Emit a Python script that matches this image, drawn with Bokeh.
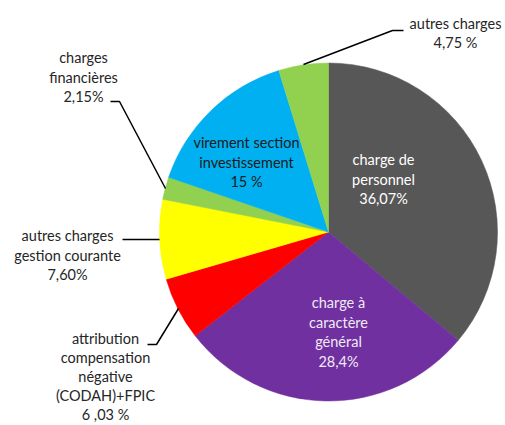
import numpy as np
from bokeh.plotting import figure
from bokeh.models import Range1d, ColumnDataSource
from bokeh.core.properties import value
from bokeh.embed import file_html
from bokeh.resources import INLINE

# ---- data ----
categories = ["charge de personnel", "charge à caractère général",
              "attribution compensation négative (CODAH)+FPIC",
              "autres charges gestion courante", "charges financières",
              "virement section investissement", "autres charges"]
values = [36.07, 28.4, 6.03, 7.60, 2.15, 15.0, 4.75]
label_texts = ["charge de\npersonnel\n36,07%",
               "charge à\ncaractère\ngénéral\n28,4%",
               "attribution\ncompensation\nnégative\n(CODAH)+FPIC\n6 ,03 %",
               "autres charges\ngestion courante\n7,60%",
               "charges\nfinancières\n2,15%",
               "virement section\ninvestissement\n15 %",
               "autres charges\n4,75 %"]
colors = ["#575757", "#7030A0", "#FF0000", "#FFFF00", "#92D050", "#00B0F0", "#92D050"]

# ---- layout (page pixel coords) ----
W, H = 505, 425
cx, cy, R = 328, 231.5, 169
label_pos = [(383, 159), (338, 302), (105, 338), (67, 235), (83, 57), (246, 142), (455, 22.7)]
label_steps = [19.7, 19.7, 19.1, 19.7, 19.7, 19.7, 19.7]
label_colors = ["#FFFFFF", "#F0EAF5", "#262626", "#262626", "#262626", "#1A1A1A", "#262626"]
leaders = [None, None,
           [(147, 344), (156, 344), (178, 308)],
           [(122, 239), (159, 239)],
           [(110, 101), (119, 101), (165, 188)],
           None,
           [(303, 64), (392, 30), (403, 30)]]
FONT = "Lato"
FS = "14.5px"

p = figure(width=W, height=H, output_backend="svg", toolbar_location=None,
           x_range=Range1d(0, W), y_range=Range1d(0, H), min_border=0)
p.axis.visible = False
p.grid.visible = False
p.outline_line_color = None
p.background_fill_color = "white"
p.border_fill_color = "white"

vals = np.array(values, dtype=float)
frac = vals / vals.sum()
cum = np.concatenate([[0], np.cumsum(frac)])
starts = np.pi / 2 - 2 * np.pi * cum[:-1]
ends = np.pi / 2 - 2 * np.pi * cum[1:]
src = ColumnDataSource(dict(start=starts, end=ends, color=colors, cat=categories))
p.wedge(x=cx, y=H - cy, radius=R, start_angle="start", end_angle="end",
        direction="clock", fill_color="color", line_color="color", line_width=0.5,
        source=src)

for lead in leaders:
    if lead is None:
        continue
    xs = [a for a, b in lead]
    ys = [H - b for a, b in lead]
    p.line(xs, ys, line_color="black", line_width=1.5)

tx, ty, tt, tc = [], [], [], []
for text, (x0, y0), col, st in zip(label_texts, label_pos, label_colors, label_steps):
    for i, line in enumerate(text.split("\n")):
        tx.append(x0)
        ty.append(H - (y0 + i * st))
        tt.append(line)
        tc.append(col)
p.text(x=tx, y=ty, text=tt, text_color=tc, text_align="center", text_baseline="middle",
       text_font=value(FONT), text_font_size=FS)

open("out.html", "w").write(file_html(p, INLINE))
